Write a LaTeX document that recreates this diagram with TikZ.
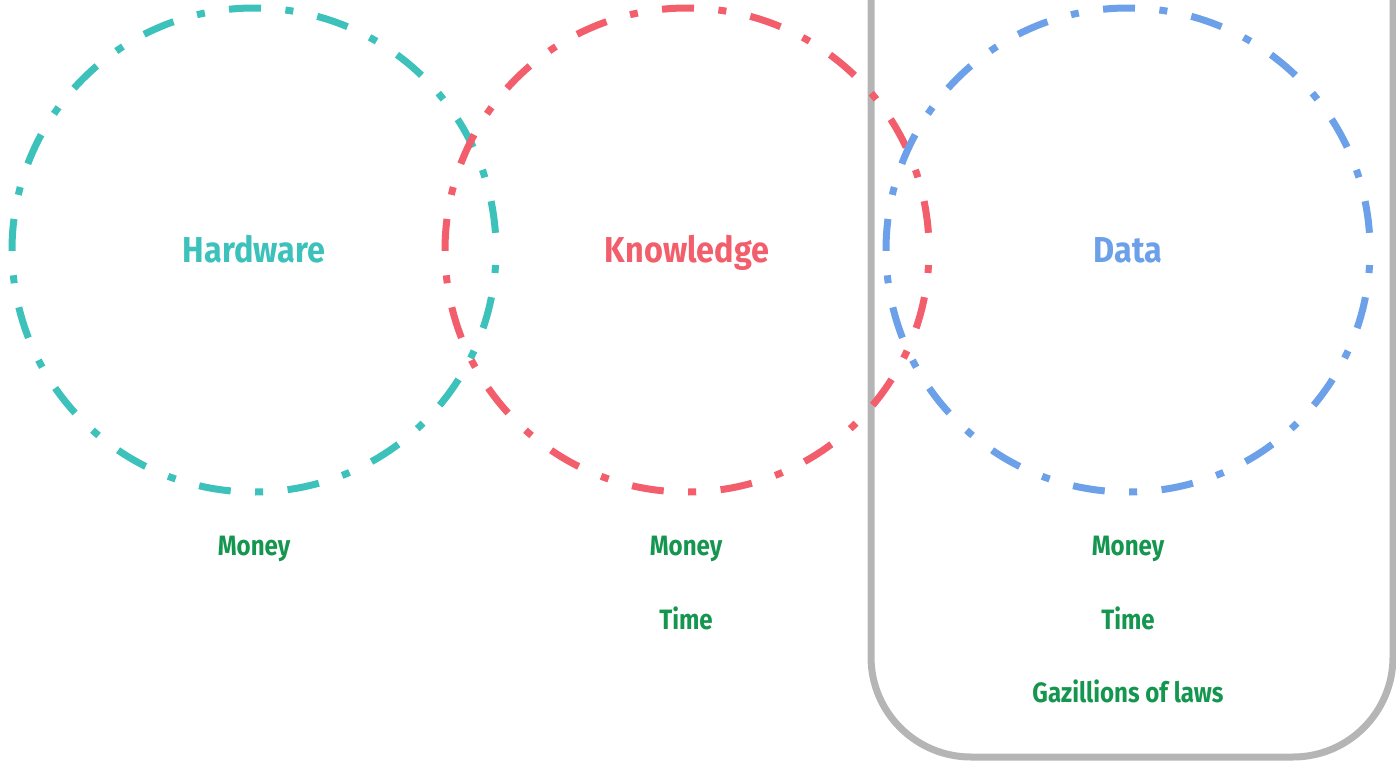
\documentclass[tikz,border=0pt]{standalone}
\usepackage{fontspec}
\newfontfamily\lblfont[FakeStretch=0.9]{Fira Sans}
\newfontfamily\costfont[FakeStretch=0.86]{Fira Sans}
\definecolor{teal1}{HTML}{3CC1BB}
\definecolor{red1}{HTML}{F25E6C}
\definecolor{blue1}{HTML}{6CA0E8}
\definecolor{green1}{HTML}{15964F}
\definecolor{gray1}{HTML}{B5B5B5}
\tikzset{
  ring/.style={circle, draw=#1, text=#1, line width=7pt, minimum size=484pt, inner sep=0pt,
    text height=25pt, text depth=0pt,
    dash pattern=on 32pt off 24.5pt on 8pt off 24.5pt, dash phase=71.8pt,
    font=\lblfont\bfseries\fontsize{36}{40}\selectfont},
  cost/.style={text=green1, inner sep=0pt, text height=19.5pt, text depth=0pt,
    font=\costfont\bfseries\fontsize{28}{32}\selectfont},
  frame/.style={draw=gray1, line width=7pt, rounded corners=100pt}
}
\begin{document}
\begin{tikzpicture}[x=1pt,y=-1pt]
\useasboundingbox (0,0) rectangle (1396,763);
\coordinate (ftl) at (871,-150);
\coordinate (fbr) at (1393,757);
\draw[frame] (ftl) rectangle (fbr);
\node[ring=teal1] (hw) at (254,250) {Hardware};
\node[ring=red1] (kn) at (687,250) {Knowledge};
\node[ring=blue1] (da) at (1128,250) {Data};
\node[cost] (m1) at (254,546) {Money};
\node[cost] (m2) at (686,546) {Money};
\node[cost] (t2) at (686,620) {Time};
\node[cost] (m3) at (1128,546) {Money};
\node[cost] (t3) at (1128,620) {Time};
\node[cost] (g3) at (1128,693) {Gazillions of laws};
\end{tikzpicture}
\end{document}
